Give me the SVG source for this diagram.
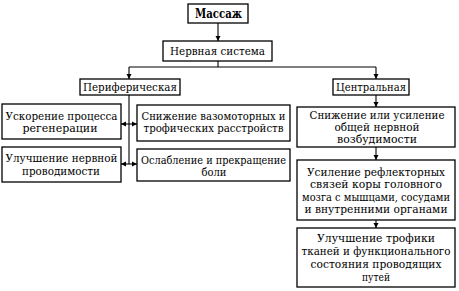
<svg xmlns="http://www.w3.org/2000/svg" width="459" height="291" viewBox="0 0 459 291">
<style>
rect{fill:#fff;stroke:#000;stroke-width:1.3}
text{font-family:'DejaVu Serif','Noto Serif','Liberation Serif',serif;font-size:11.2px;fill:#000;text-anchor:middle}
.b{font-weight:bold;font-size:12px}
.s{font-size:10.4px}
.c line,.c path{stroke:#000;stroke-width:1.1;fill:none}
</style>
<defs>
<marker id="ah" markerUnits="userSpaceOnUse" markerWidth="6" markerHeight="6" refX="5" refY="3" orient="auto-start-reverse">
<path d="M0,0.5 L5,3 L0,5.5 z" fill="#000"/>
</marker>
</defs>
<rect width="459" height="291" style="fill:#fff;stroke:none"/>
<g class="c" id="connectors">
<line x1="218" y1="23" x2="218" y2="41" marker-end="url(#ah)"/>
<path d="M218,61 V67"/>
<path d="M129,67 H376"/>
<line x1="129" y1="67" x2="129" y2="79" marker-end="url(#ah)"/>
<line x1="376" y1="67" x2="376" y2="79" marker-end="url(#ah)"/>
<path d="M129,95 V164"/>
<line x1="121" y1="124" x2="137" y2="124" marker-start="url(#ah)" marker-end="url(#ah)"/>
<line x1="121" y1="164" x2="137" y2="164" marker-start="url(#ah)" marker-end="url(#ah)"/>
<line x1="376" y1="95" x2="376" y2="107" marker-end="url(#ah)"/>
<line x1="376" y1="147" x2="376" y2="160" marker-end="url(#ah)"/>
<line x1="376" y1="220" x2="376" y2="228" marker-end="url(#ah)"/>
</g>
<g id="massage"><rect x="188" y="4" width="60" height="19"/><text class="b" x="218.5" y="18" textLength="47" lengthAdjust="spacingAndGlyphs">Массаж</text></g>
<g id="nervous"><rect x="163" y="41" width="109" height="20"/><text x="217.5" y="55" textLength="95" lengthAdjust="spacingAndGlyphs">Нервная система</text></g>
<g id="peripheral"><rect x="80" y="79" width="100" height="16"/><text x="130" y="91" textLength="94" lengthAdjust="spacingAndGlyphs">Периферическая</text></g>
<g id="central"><rect x="333" y="79" width="76" height="16"/><text x="371" y="91" textLength="70" lengthAdjust="spacingAndGlyphs">Центральная</text></g>
<g id="regen"><rect x="2" y="104" width="119" height="35"/><text x="61.5" y="120" textLength="112" lengthAdjust="spacingAndGlyphs">Ускорение процесса</text><text x="60" y="132" textLength="75" lengthAdjust="spacingAndGlyphs">регенерации</text></g>
<g id="conduct"><rect x="2" y="147" width="119" height="35"/><text x="61.5" y="162" textLength="112" lengthAdjust="spacingAndGlyphs">Улучшение нервной</text><text x="61" y="174.5" textLength="78" lengthAdjust="spacingAndGlyphs">проводимости</text></g>
<g id="vaso"><rect x="137" y="105" width="153" height="36"/><text x="213.5" y="119.5" textLength="144" lengthAdjust="spacingAndGlyphs">Снижение вазомоторных и</text><text x="213.5" y="132" textLength="140" lengthAdjust="spacingAndGlyphs">трофических расстройств</text></g>
<g id="pain"><rect x="137" y="149" width="153" height="32"/><text x="213.5" y="163.5" textLength="145" lengthAdjust="spacingAndGlyphs">Ослабление и прекращение</text><text x="214" y="175.5" textLength="25" lengthAdjust="spacingAndGlyphs">боли</text></g>
<g id="excit"><rect x="297" y="107" width="158" height="40"/><text x="377" y="118.5" textLength="135" lengthAdjust="spacingAndGlyphs">Снижение или усиление</text><text x="377" y="130.5" textLength="85" lengthAdjust="spacingAndGlyphs">общей нервной</text><text x="377" y="142.5" textLength="80" lengthAdjust="spacingAndGlyphs">возбудимости</text></g>
<g id="reflex"><rect x="297" y="160" width="158" height="60"/><text x="376" y="175.5" textLength="138" lengthAdjust="spacingAndGlyphs">Усиление рефлекторных</text><text x="376" y="188" textLength="132" lengthAdjust="spacingAndGlyphs">связей коры головного</text><text class="s" x="376" y="200.5" textLength="148" lengthAdjust="spacingAndGlyphs">мозга с мышцами, сосудами</text><text x="376" y="213" textLength="143" lengthAdjust="spacingAndGlyphs">и внутренними органами</text></g>
<g id="trophic"><rect x="297" y="228" width="158" height="59"/><text x="376" y="241.5" textLength="118" lengthAdjust="spacingAndGlyphs">Улучшение трофики</text><text class="s" x="376" y="254.5" textLength="149" lengthAdjust="spacingAndGlyphs">тканей и функционального</text><text x="376" y="267.5" textLength="131" lengthAdjust="spacingAndGlyphs">состояния проводящих</text><text x="376" y="280.5" textLength="28" lengthAdjust="spacingAndGlyphs">путей</text></g>
</svg>
